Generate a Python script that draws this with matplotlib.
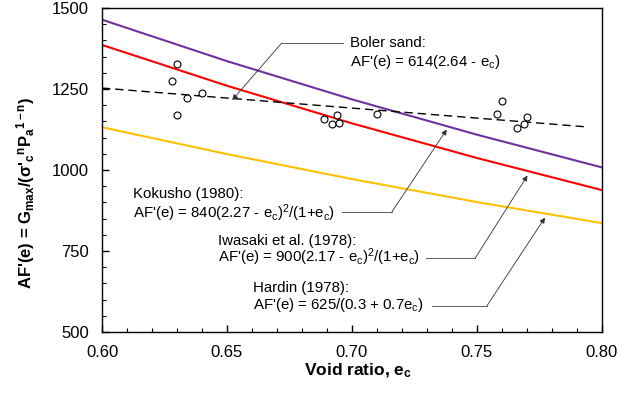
import numpy as np
import matplotlib
matplotlib.use('Agg')
import matplotlib.pyplot as plt
from matplotlib.ticker import MultipleLocator, FormatStrFormatter

plt.rcParams['font.family'] = ['Liberation Sans', 'DejaVu Sans']
plt.rcParams['mathtext.fontset'] = 'custom'
plt.rcParams['mathtext.rm'] = 'Liberation Sans'
plt.rcParams['mathtext.it'] = 'Liberation Sans'
plt.rcParams['mathtext.bf'] = 'Liberation Sans:bold'

# correlation curves, values
e_curve = [0.60, 0.65, 0.70, 0.75, 0.80]
kokusho = [1464, 1336, 1218, 1109, 1008]
iwasaki = [1386, 1260, 1144, 1037, 938]
hardin = [1132, 1049, 972, 901, 836]

# Boler sand fit (dashed)
e_boler = [0.60, 0.794]
boler = [1253, 1133]

# measured points
e_meas = [0.630, 0.628, 0.640, 0.634, 0.630, 0.694, 0.689, 0.692, 0.695, 0.710,
          0.760, 0.758, 0.770, 0.766, 0.769]
af_meas = [1326, 1275, 1237, 1223, 1171, 1171, 1156, 1141, 1146, 1172,
           1213, 1173, 1164, 1131, 1141]

fig = plt.figure(figsize=(6.32, 3.97), dpi=100)
ax = fig.add_axes([0.1614, 0.1637, 0.7911, 0.8161])

ax.plot(e_curve, kokusho, color='#7030A0', lw=1.5)
ax.plot(e_curve, iwasaki, color='#FF0000', lw=1.5)
ax.plot(e_curve, hardin, color='#FFC000', lw=1.5)
ax.plot(e_boler, boler, color='black', lw=1.0, dashes=(6, 3.5))
ax.plot(e_meas, af_meas, 'o', mfc='white', mec='black', ms=5, mew=0.8)

ax.set_xlim(0.60, 0.80)
ax.set_ylim(500, 1500)
ax.xaxis.set_major_locator(MultipleLocator(0.05))
ax.xaxis.set_minor_locator(MultipleLocator(0.01))
ax.yaxis.set_major_locator(MultipleLocator(250))
ax.yaxis.set_minor_locator(MultipleLocator(50))
ax.xaxis.set_major_formatter(FormatStrFormatter('%.2f'))
ax.tick_params(which='both', direction='in', labelsize=12, top=False, right=False)
ax.tick_params(which='major', length=5, width=1)
ax.tick_params(which='minor', length=3, width=0.8)
ax.tick_params(axis='x', pad=9)
ax.tick_params(axis='y', pad=9.5)
for s in ax.spines.values():
    s.set_linewidth(1.0)

ax.set_xlabel(r"Void ratio, e$_{\mathbf{c}}$", fontsize=12.5, fontweight='bold')
ax.set_ylabel(r"AF'(e) = G$_{\mathbf{max}}$/(σ'$_{\mathbf{c}}$$^{\mathbf{n}}$P$_{\mathbf{a}}$$^{\mathbf{1-n}}$)",
              fontsize=12, fontweight='bold')
ax.xaxis.set_label_coords(0.512, -0.09)
ax.yaxis.set_label_coords(-0.13, 0.43)

fs = 10.8
lead = dict(color='#404040', lw=0.6)
arrow = dict(arrowstyle='-|>', color='#303030', lw=0.6, mutation_scale=8,
             shrinkA=0, shrinkB=0)

# Boler sand
ax.text(0.6992, 1392, "Boler sand:", fontsize=fs, va='center')
ax.text(0.6992, 1333, r"AF'(e) = 614(2.64 - e$_c$)", fontsize=fs, va='center')
ax.plot([0.6964, 0.6719], [1392, 1392], **lead)
ax.annotate('', xy=(0.6521, 1216), xytext=(0.6719, 1392), arrowprops=arrow)

# Kokusho
ax.text(0.6124, 926, "Kokusho (1980):", fontsize=fs, va='center')
ax.text(0.6124, 868, r"AF'(e) = 840(2.27 - e$_c$)$^2$/(1+e$_c$)", fontsize=fs, va='center')
ax.plot([0.6962, 0.7159], [870, 870], **lead)
ax.annotate('', xy=(0.7379, 1125), xytext=(0.7159, 870), arrowprops=arrow)

# Iwasaki
ax.text(0.6464, 781, "Iwasaki et al. (1978):", fontsize=fs, va='center')
ax.text(0.6464, 731, r"AF'(e) = 900(2.17 - e$_c$)$^2$/(1+e$_c$)", fontsize=fs, va='center')
ax.plot([0.7295, 0.7492], [727, 727], **lead)
ax.annotate('', xy=(0.7702, 983), xytext=(0.7492, 727), arrowprops=arrow)

# Hardin
ax.text(0.6604, 636, "Hardin (1978):", fontsize=fs, va='center')
ax.text(0.6604, 583, r"AF'(e) = 625/(0.3 + 0.7e$_c$)", fontsize=fs, va='center')
ax.plot([0.7322, 0.7539], [580, 580], **lead)
ax.annotate('', xy=(0.7772, 853), xytext=(0.7539, 580), arrowprops=arrow)

fig.savefig('out.png', dpi=100)
